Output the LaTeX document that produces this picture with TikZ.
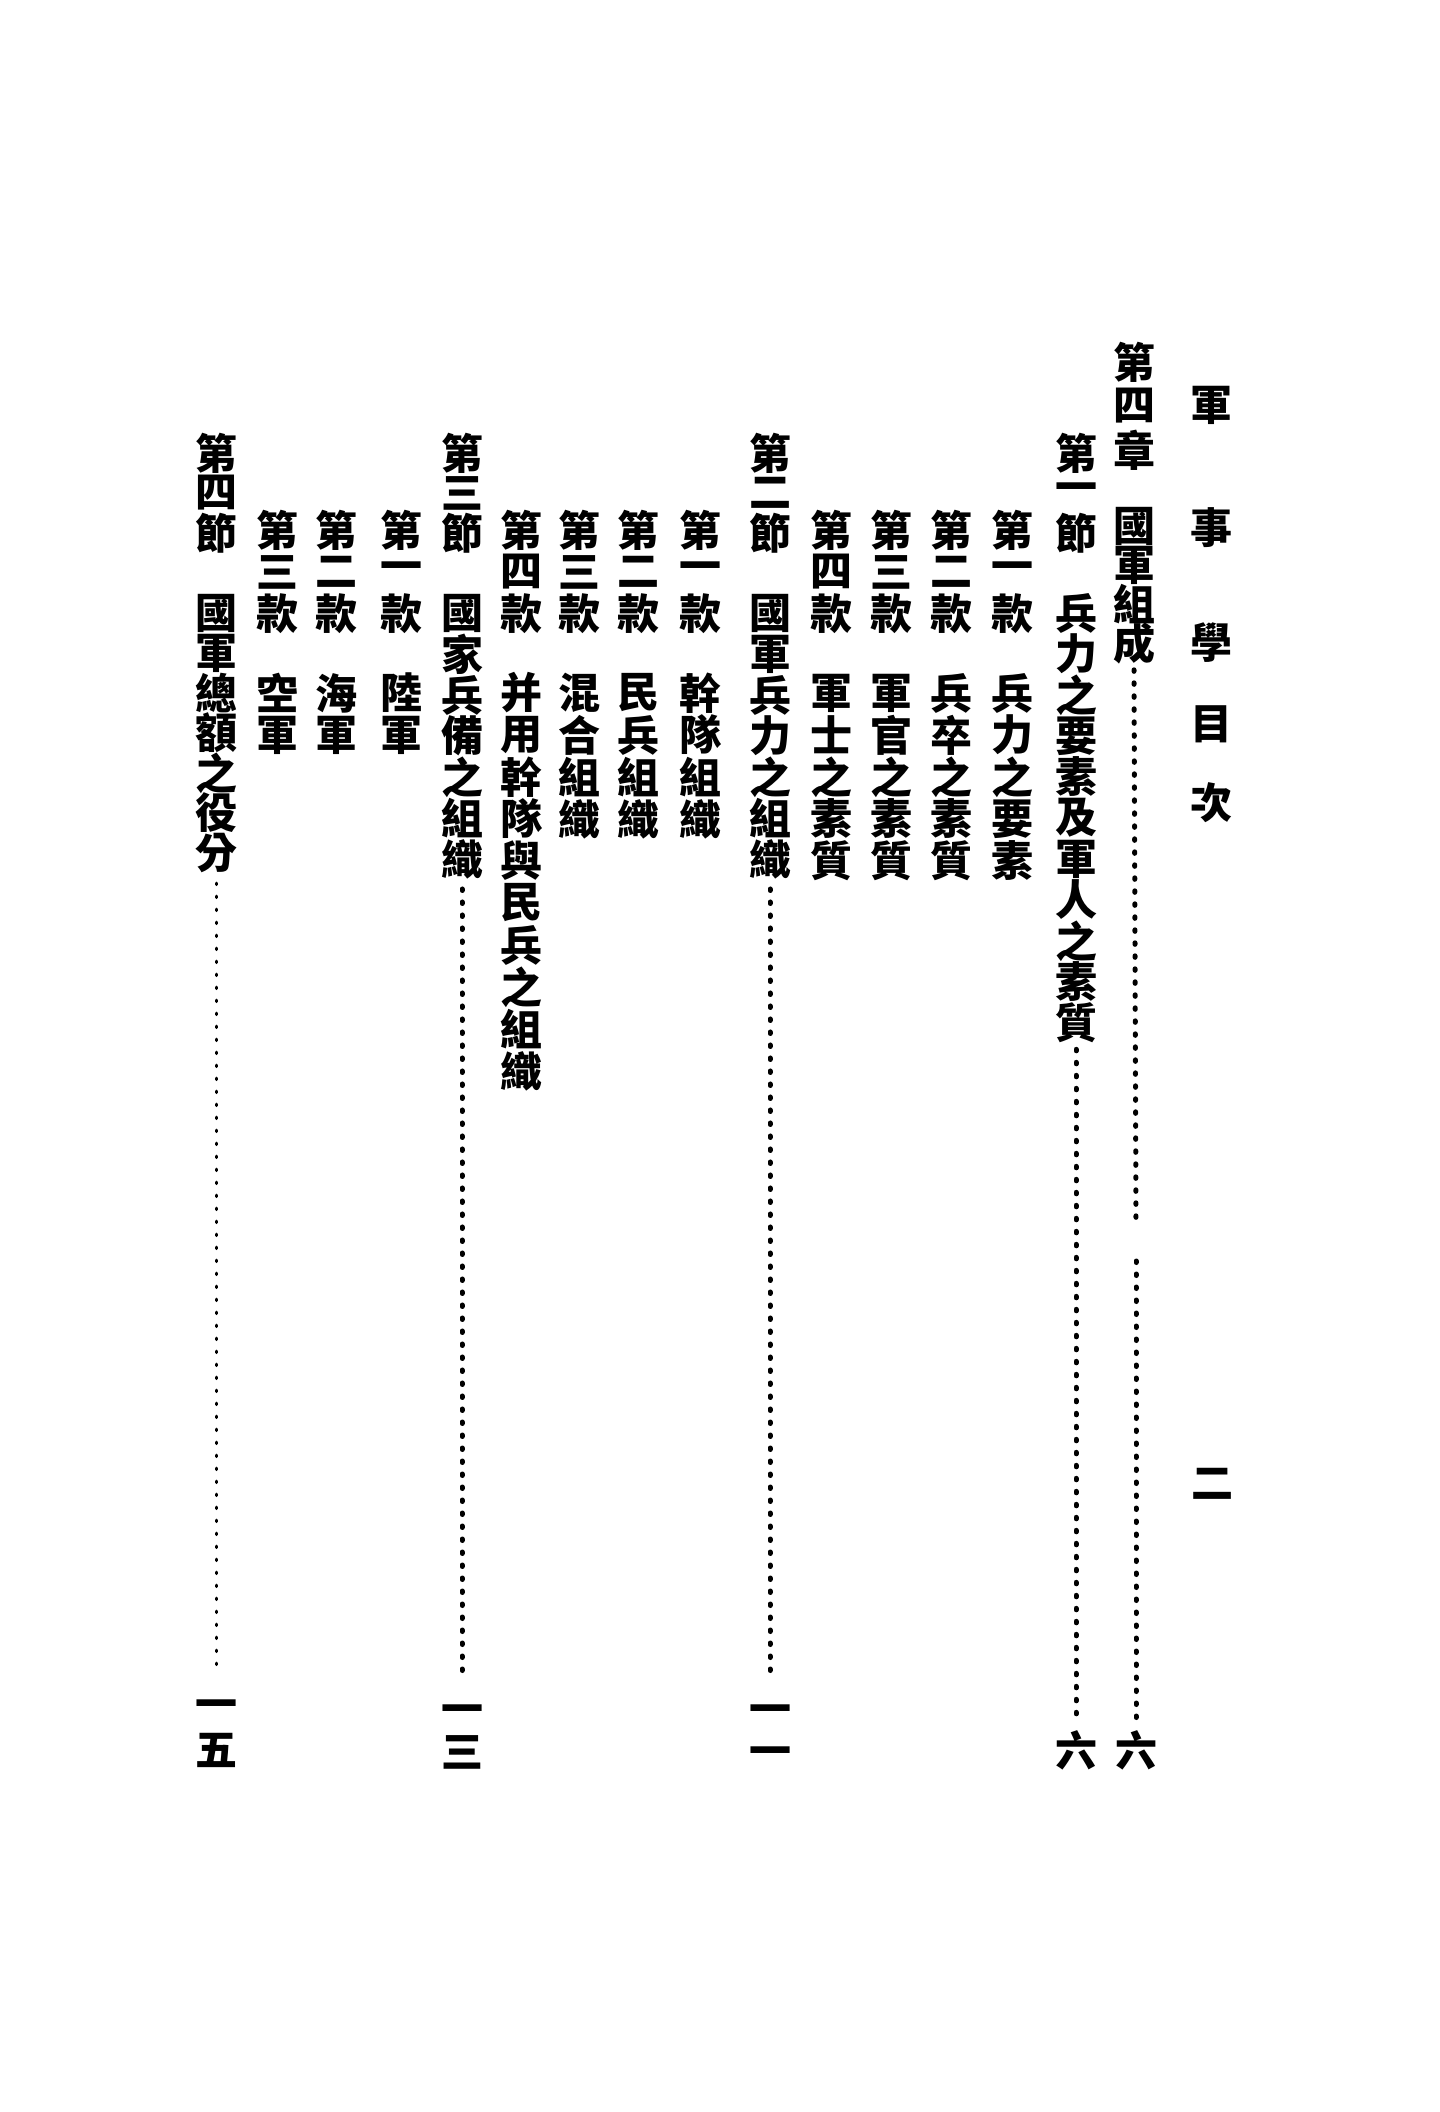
\documentclass[tikz,border=0pt]{standalone}
\usepackage{fontspec}
\newfontfamily\cjk{Noto Sans CJK TC}
\newcommand\zilie[5]{%
  \foreach \c [count=\i] in {#5} {\node[zi] (#1-\i) at (#2,{#3+#4*(\i-1)}) {\c};}}

\begin{document}
\begin{tikzpicture}[x=1pt,y=-1pt,
  zi/.style={inner sep=0pt,font=\cjk\bfseries\fontsize{42}{42}\selectfont},
  dian/.style={line width=5pt,line cap=round,dash pattern=on 1.5pt off 11.5pt},
  xidian/.style={dian,line width=3pt}]
\fill[white] (0,0) rectangle (1440,2112);
\useasboundingbox (0,0) rectangle (1440,2112);

% header
\foreach \c/\y [count=\i] in {軍/405,事/528,學/643,目/724,次/803}
  \node[zi] (head-\i) at (1211,\y) {\c};
\node[zi] (headnum) at (1212,1484) {二};

% chapter
\zilie{c4lab}{1134}{362}{44}{第,四,章}
\zilie{c4tit}{1134}{526}{39}{國,軍,組,成}
\zilie{c4num}{1136}{1750}{42}{六}
\coordinate (c4gapa) at (1136,1224);
\coordinate (c4gapb) at (1136,1261);
\draw[dian] ([yshift=-6pt]c4tit-4.south) -- (c4gapa);
\draw[dian] (c4gapb) -- ([yshift=8pt]c4num-1.north);

% section 1
\zilie{s1lab}{1076}{453}{40}{第,一,節}
\zilie{s1tit}{1076}{613}{41}{兵,力,之,要,素,及,軍,人,之,素,質}
\zilie{s1num}{1076}{1750}{42}{六}
\draw[dian] ([yshift=-6pt]s1tit-11.south) -- ([yshift=8pt]s1num-1.north);

\zilie{k11lab}{1012}{530}{42}{第,一,款}
\zilie{k11tit}{1012}{693}{42}{兵,力,之,要,素}
\zilie{k12lab}{951}{530}{42}{第,二,款}
\zilie{k12tit}{951}{693}{42}{兵,卒,之,素,質}
\zilie{k13lab}{891}{530}{42}{第,三,款}
\zilie{k13tit}{891}{693}{42}{軍,官,之,素,質}
\zilie{k14lab}{831}{530}{42}{第,四,款}
\zilie{k14tit}{831}{693}{42}{軍,士,之,素,質}

% section 2
\zilie{s2lab}{770}{453}{40}{第,二,節}
\zilie{s2tit}{770}{613}{41}{國,軍,兵,力,之,組,織}
\zilie{s2num}{770}{1715}{42}{一,一}
\draw[dian] ([yshift=-10pt]s2tit-7.south) -- ([yshift=24pt]s2num-1.north);

\zilie{k21lab}{700}{530}{42}{第,一,款}
\zilie{k21tit}{700}{693}{42}{幹,隊,組,織}
\zilie{k22lab}{638}{530}{42}{第,二,款}
\zilie{k22tit}{638}{693}{42}{民,兵,組,織}
\zilie{k23lab}{579}{530}{42}{第,三,款}
\zilie{k23tit}{579}{693}{42}{混,合,組,織}
\zilie{k24lab}{521}{530}{42}{第,四,款}
\zilie{k24tit}{521}{693}{42}{并,用,幹,隊,與,民,兵,之,組,織}

% section 3
\zilie{s3lab}{462}{453}{40}{第,三,節}
\zilie{s3tit}{462}{613}{41}{國,家,兵,備,之,組,織}
\zilie{s3num}{462}{1715}{37}{一,三}
\draw[dian] ([yshift=-10pt]s3tit-7.south) -- ([yshift=24pt]s3num-1.north);

\zilie{k31lab}{401}{530}{42}{第,一,款}
\zilie{k31tit}{401}{693}{42}{陸,軍}
\zilie{k32lab}{336}{530}{42}{第,二,款}
\zilie{k32tit}{336}{693}{42}{海,軍}
\zilie{k33lab}{277}{530}{42}{第,三,款}
\zilie{k33tit}{277}{693}{42}{空,軍}

% section 4
\zilie{s4lab}{216}{453}{40}{第,四,節}
\zilie{s4tit}{216}{613}{40}{國,軍,總,額,之,役,分}
\zilie{s4num}{216}{1710}{40}{一,五}
\draw[xidian] ([yshift=-10pt]s4tit-7.south) -- ([yshift=24pt]s4num-1.north);
\end{tikzpicture}
\end{document}
